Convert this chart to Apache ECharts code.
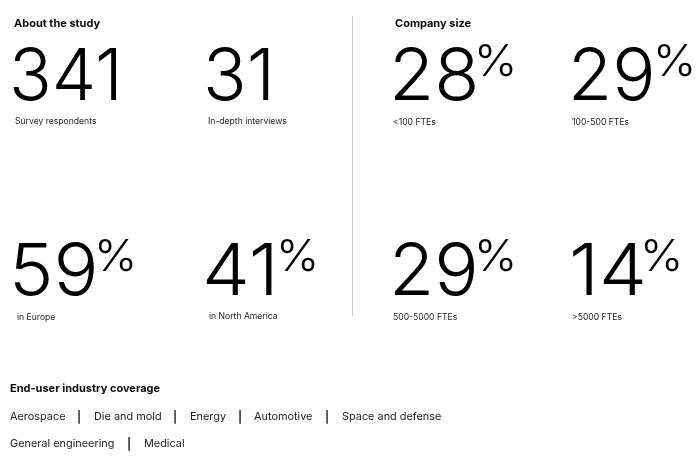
<!DOCTYPE html>
<html>
<head>
<meta charset="utf-8">
<style>
  html, body { margin: 0; padding: 0; background: #fff; }
  #chart { width: 698px; height: 457px; }
</style>
<script src="https://cdn.jsdelivr.net/npm/echarts@6/dist/echarts.min.js"></script>
</head>
<body>
<div id="chart"></div>
<script>
const headings = ['About the study', 'Company size', 'End-user industry coverage'];
const statValues = ['341', '31', '28', '29', '59', '41', '29', '14'];
const statUnits = ['', '', '%', '%', '%', '%', '%', '%'];
const statLabels = ['Survey respondents', 'In-depth interviews', '<100 FTEs', '100-500 FTEs', 'in Europe', 'in North America', '500-5000 FTEs', '>5000 FTEs'];
const industryRow1 = ['Aerospace', 'Die and mold', 'Energy', 'Automotive', 'Space and defense'];
const industryRow2 = ['General engineering', 'Medical'];

// layout
const statX = [9, 203, 389, 568, 9, 202, 389, 569];
const statTop = [42, 42, 42, 42, 237, 237, 237, 237];
const statScale = [0.98, 1, 1.025, 1, 1.04, 1.06, 1.025, 1.06];
const unitX = [0, 0, 474, 653, 94, 276, 474, 640];
const unitTop = [0, 0, 41, 41, 236, 236, 236, 236];
const labelX = [15, 208, 393, 572, 17, 209, 393, 572];
const labelY = [121.5, 121.5, 122.5, 122.5, 317.5, 316.5, 317.5, 317.5];
const headingPos = [[14, 23.5], [395, 23.5], [10, 388.5]];
const row1X = [10, 94, 190, 254, 342];
const row1Sep = [79, 175, 240, 327];
const row2X = [10, 144];
const row2Sep = [129];

const font = 'Inter';
const ink = '#0b0b0b';

const text = (x, y, str, size, weight, color, extra, scaleX) => ({
  type: 'text',
  x, y,
  scaleX: scaleX || 1,
  style: Object.assign({ text: str, fontFamily: font, fontSize: size, fontWeight: weight, fill: color, verticalAlign: 'middle' }, extra)
});

const elements = [];

headings.forEach((h, i) => {
  elements.push(text(headingPos[i][0], headingPos[i][1], h, 11, 700, ink));
});

statValues.forEach((v, i) => {
  elements.push(text(statX[i], statTop[i], v, 72, 300, '#000', { verticalAlign: 'top' }, statScale[i]));
  if (statUnits[i]) {
    elements.push(text(unitX[i], unitTop[i], statUnits[i], 44, 300, '#000', { verticalAlign: 'top' }, 1.05));
  }
  elements.push(text(labelX[i], labelY[i], statLabels[i], 8.6, 400, '#222'));
});

// vertical divider
elements.push({ type: 'line', shape: { x1: 352.5, y1: 16, x2: 352.5, y2: 316 }, style: { stroke: '#cfcfcf', lineWidth: 1 } });

industryRow1.forEach((t, i) => elements.push(text(row1X[i], 416.5, t, 10.9, 400, '#222')));
row1Sep.forEach(x => elements.push(text(x, 417.5, '|', 11.5, 600, '#111', { align: 'center' })));
industryRow2.forEach((t, i) => elements.push(text(row2X[i], 443.5, t, 10.9, 400, '#222')));
row2Sep.forEach(x => elements.push(text(x, 444.5, '|', 11.5, 600, '#111', { align: 'center' })));

const chart = echarts.init(document.getElementById('chart'), null, { renderer: 'canvas' });
chart.setOption({
  animation: false,
  backgroundColor: '#fff',
  graphic: { elements }
});
</script>
</body>
</html>
